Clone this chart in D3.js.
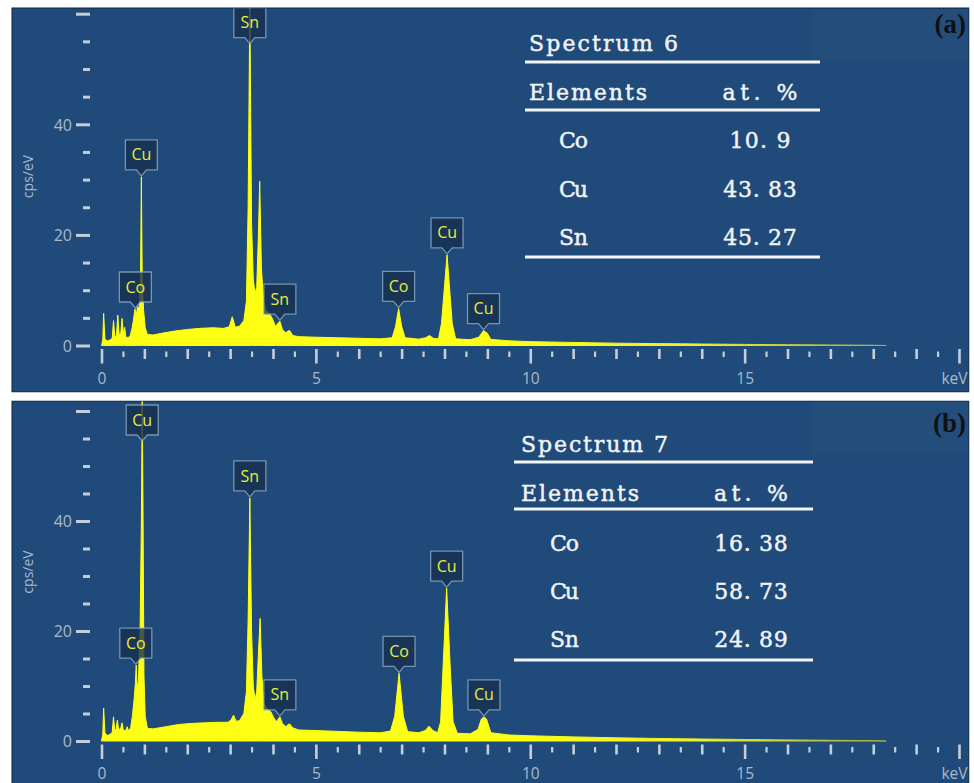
<!DOCTYPE html>
<html>
<head>
<meta charset="utf-8">
<script src="https://cdn.jsdelivr.net/npm/d3@7"></script>
<style>
  html, body { margin: 0; padding: 0; background: #ffffff; }
  svg { display: block; }
</style>
</head>
<body>
<svg id="chart" width="974" height="783"></svg>
<script>
// EDS spectrum of point 6: [energy (keV), intensity (cps/eV)]
const spectrum6 = [
  [0.00,0],[0.03,1.0],[0.05,5.8],[0.08,1.2],[0.13,0.8],[0.20,1.0],[0.25,1.3],[0.28,4.5],[0.31,1.6],
  [0.35,1.8],[0.38,5.5],[0.41,2.0],[0.45,2.2],[0.48,4.9],[0.51,2.0],[0.54,3.3],[0.57,1.5],[0.62,1.4],
  [0.67,1.8],[0.71,3.0],[0.75,4.8],[0.78,6.6],[0.81,5.4],[0.84,7.0],[0.88,6.8],[0.91,12.0],[0.93,30.5],
  [0.95,12.0],[0.98,6.5],[1.02,3.2],[1.07,2.0],[1.20,1.9],[1.40,2.2],[1.70,2.6],[2.00,2.9],[2.30,3.1],
  [2.60,3.2],[2.85,3.1],[2.98,3.4],[3.05,5.2],[3.12,3.3],[3.22,3.5],[3.32,4.5],[3.38,8.0],[3.42,25.0],
  [3.46,62.0],[3.50,22.0],[3.54,12.0],[3.58,9.5],[3.62,10.5],[3.66,20.0],[3.69,29.7],[3.73,14.0],
  [3.78,8.0],[3.84,6.4],[3.92,5.8],[4.00,4.6],[4.06,3.4],[4.12,4.1],[4.16,4.4],[4.22,2.9],[4.30,2.3],
  [4.35,2.6],[4.39,2.7],[4.46,1.8],[4.60,1.6],[5.00,1.5],[5.50,1.4],[6.00,1.3],[6.50,1.2],[6.78,1.4],
  [6.86,3.5],[6.93,6.7],[7.00,3.5],[7.08,1.4],[7.40,1.15],[7.56,1.4],[7.65,1.8],[7.74,1.3],[7.86,1.2],
  [7.93,4.0],[8.06,16.4],[8.18,4.0],[8.26,1.2],[8.60,1.05],[8.80,1.5],[8.91,2.7],[9.00,2.2],[9.08,1.1],
  [9.50,0.85],[10.0,0.7],[11.0,0.55],[12.0,0.42],[13.0,0.34],[14.0,0.27],[15.0,0.2],[16.0,0.15],[17.0,0.1],
  [18.0,0.05],[18.3,0]
];

// EDS spectrum of point 7: [energy (keV), intensity (cps/eV)]
const spectrum7 = [
  [0.00,0],[0.03,1.2],[0.05,6.0],[0.08,1.5],[0.13,1.0],[0.20,1.2],[0.25,1.6],[0.28,4.4],[0.31,1.8],
  [0.34,2.2],[0.37,3.8],[0.40,2.0],[0.45,2.4],[0.48,3.3],[0.51,2.0],[0.56,1.8],[0.60,2.6],[0.63,1.8],
  [0.68,2.4],[0.72,4.5],[0.76,7.5],[0.79,10.5],[0.81,13.8],[0.83,9.5],[0.86,11.0],[0.90,20.0],[0.93,40.0],
  [0.95,62.0],[0.97,40.0],[0.99,12.0],[1.02,4.5],[1.07,2.3],[1.20,2.2],[1.50,2.6],[1.80,3.0],[2.10,3.2],
  [2.40,3.3],[2.70,3.4],[2.95,3.4],[3.02,3.8],[3.08,4.7],[3.14,3.6],[3.22,3.7],[3.32,5.0],[3.38,9.0],
  [3.42,22.0],[3.46,44.2],[3.50,20.0],[3.54,10.0],[3.58,7.5],[3.62,9.0],[3.66,16.0],[3.70,22.3],
  [3.74,12.0],[3.78,7.0],[3.86,5.8],[3.95,5.3],[4.02,4.2],[4.08,3.5],[4.13,4.1],[4.16,4.4],[4.22,3.2],
  [4.30,2.6],[4.35,3.0],[4.39,3.1],[4.46,2.4],[4.60,2.0],[5.00,1.9],[5.50,1.75],[6.00,1.6],[6.50,1.5],
  [6.74,1.8],[6.84,4.5],[6.94,12.3],[7.04,4.5],[7.14,1.7],[7.40,1.5],[7.55,1.9],[7.64,2.7],[7.73,1.9],
  [7.84,1.5],[7.91,3.5],[7.97,14.0],[8.05,27.8],[8.13,14.0],[8.20,3.5],[8.30,1.4],[8.60,1.3],[8.78,2.1],
  [8.86,4.0],[8.92,4.4],[8.98,4.0],[9.08,1.5],[9.50,1.1],[10.0,0.95],[11.0,0.75],[12.0,0.58],[13.0,0.46],
  [14.0,0.36],[15.0,0.28],[16.0,0.2],[17.0,0.13],[18.0,0.06],[18.3,0]
];

// Peak identification markers: [element, energy (keV), intensity at marker tip (cps/eV)]
const peaks6 = [["Co",0.79,6.6],["Cu",0.93,30.5],["Sn",3.46,62],["Sn",4.16,4.4],["Co",6.93,6.7],["Cu",8.06,16.4],["Cu",8.91,2.7]];
const peaks7 = [["Co",0.80,13.8],["Cu",0.95,62],["Sn",3.46,44.2],["Sn",4.16,4.4],["Co",6.94,12.3],["Cu",8.05,27.8],["Cu",8.92,4.4]];

// Quantification tables
const elements = ["Co", "Cu", "Sn"];
const atomic6 = [10.9, 43.83, 45.27];
const atomic7 = [16.38, 58.73, 24.89];
const spectrumNames = ["Spectrum 6", "Spectrum 7"];
const panelTags = ["(a)", "(b)"];

// Axis labels
const xTickLabels = ["0", "5", "10", "15", "keV"];   // at 0, 5, 10, 15, 20 keV
const yTickLabels = ["0", "20", "40", ""];           // at 0, 20, 40, 60 cps/eV
const yTitle = "cps/eV";

const svg = d3.select("#chart");
const defs = svg.append("defs");

const x = d3.scaleLinear().domain([0, 20]).range([101.5, 959]);

// Spectrum colour fades out in the high-energy tail
const grad = defs.append("linearGradient")
  .attr("id", "specFill").attr("gradientUnits", "userSpaceOnUse")
  .attr("x1", x(9)).attr("x2", x(18.3)).attr("y1", 0).attr("y2", 0);
grad.append("stop").attr("offset", 0).attr("stop-color", "#ffff14");
grad.append("stop").attr("offset", 0.55).attr("stop-color", "#eef02a");
grad.append("stop").attr("offset", 1).attr("stop-color", "#a3ae48");

const panels = [
  { top: 8, bottom: 392, y0: 345.5, y60: 13.7,
    spectrum: spectrum6, peaks: peaks6, atomic: atomic6, name: spectrumNames[0], tag: panelTags[0], tagY: 33,
    tbl: { x0: 525, x1: 820, lines: [62, 110, 257], titleX: 529, titleY: 51, titleLen: 149,
           headY: 100, headLen: 118, atCx: 760, atLen: 75, rowX: 559, rowY: [148, 197, 245] } },
  { top: 401, bottom: 790, y0: 741, y60: 411,
    spectrum: spectrum7, peaks: peaks7, atomic: atomic7, name: spectrumNames[1], tag: panelTags[1], tagY: 432,
    tbl: { x0: 514, x1: 813, lines: [462, 509, 660], titleX: 521, titleY: 452, titleLen: 147,
           headY: 501, headLen: 118, atCx: 751, atLen: 74, rowX: 550, rowY: [551, 599, 647] } }
];

const tickColor = "#c3cedb";
const labelColor = "#a9bacb";
const uiFont = "'Open Sans', 'Noto Sans', sans-serif";
const tableFont = "'DejaVu Serif', 'Liberation Serif', serif";
const tagFont = "'Liberation Serif', 'DejaVu Serif', serif";

panels.forEach((p, i) => {
  const g = svg.append("g");

  // panel background
  g.append("rect")
    .attr("x", 12).attr("y", p.top).attr("width", 957).attr("height", p.bottom - p.top)
    .attr("fill", "#1f4a79").attr("stroke", "#0f253d").attr("stroke-width", 1);
  g.append("rect")
    .attr("x", 813).attr("y", p.top + 1).attr("width", 155).attr("height", 52)
    .attr("fill", "#ffffff").attr("opacity", 0.018);

  const clipId = "clip" + i;
  defs.append("clipPath").attr("id", clipId).append("rect")
    .attr("x", 12).attr("y", p.top + 0.5).attr("width", 957).attr("height", p.bottom - p.top - 1);

  const y = d3.scaleLinear().domain([0, 60]).range([p.y0, p.y60]);

  // spectrum
  const area = d3.area()
    .x(d => x(d[0]))
    .y0(y(0))
    .y1(d => y(d[1]));
  g.append("path")
    .datum(p.spectrum)
    .attr("d", area)
    .attr("fill", "url(#specFill)")
    .attr("stroke", "url(#specFill)")
    .attr("stroke-width", 1)
    .attr("stroke-linejoin", "round")
    .attr("clip-path", `url(#${clipId})`);

  // energy axis
  const xAxis = d3.axisBottom(x)
    .tickValues(d3.range(0, 20.01, 0.5))
    .tickSize(0)
    .tickFormat(d => (d % 5 === 0 ? xTickLabels[d / 5] : ""));
  const xg = g.append("g")
    .attr("transform", `translate(0,${p.y0 + 3.5})`)
    .call(xAxis);
  xg.select(".domain").remove();
  xg.selectAll(".tick line")
    .attr("y1", d => (d % 1 === 0 ? 0 : 2.5))
    .attr("y2", d => (d % 5 === 0 ? 14.5 : d % 1 === 0 ? 10 : 8))
    .attr("stroke", tickColor)
    .attr("stroke-width", d => (d % 1 === 0 ? 2.6 : 2.2));
  xg.selectAll(".tick text")
    .attr("y", 34.5).attr("dy", 0)
    .attr("fill", labelColor)
    .style("font-family", uiFont).style("font-size", "15.5px");
  xg.selectAll(".tick text").filter(d => d === 20)
    .attr("text-anchor", "end").attr("x", 8);

  // intensity axis
  const yAxis = d3.axisLeft(y)
    .tickValues(d3.range(0, 60.01, 5))
    .tickSize(0)
    .tickFormat(d => (d % 20 === 0 ? yTickLabels[d / 20] : ""));
  const yg = g.append("g")
    .attr("transform", "translate(90,0)")
    .call(yAxis);
  yg.select(".domain").remove();
  yg.selectAll(".tick line")
    .attr("x1", d => (d % 20 === 0 ? -14 : -7))
    .attr("x2", 0)
    .attr("stroke", tickColor)
    .attr("stroke-width", 3);
  yg.selectAll(".tick text")
    .attr("x", -18).attr("dy", "0.36em")
    .attr("fill", labelColor)
    .style("font-family", uiFont).style("font-size", "16px");

  g.append("text")
    .attr("transform", `translate(33,${p.y0 - 169}) rotate(-90)`)
    .attr("text-anchor", "middle")
    .attr("fill", labelColor)
    .style("font-family", uiFont).style("font-size", "14px")
    .text(yTitle);

  // peak markers
  const mk = g.append("g").attr("clip-path", `url(#${clipId})`);
  p.peaks.forEach(([el, e, v]) => {
    const cx = x(e);
    const tip = Math.max(y(v) - 1, y(60) + 30);
    const top = tip - 36, bot = tip - 6;
    mk.append("path")
      .attr("d", `M${cx - 16},${top}H${cx + 16}V${bot}H${cx + 5}L${cx},${tip}L${cx - 5},${bot}H${cx - 16}Z`)
      .attr("fill", "rgba(22,47,80,0.8)")
      .attr("stroke", "rgba(150,176,204,0.75)")
      .attr("stroke-width", 1.3)
      .attr("stroke-linejoin", "round");
    mk.append("text")
      .attr("x", cx).attr("y", top + 15)
      .attr("dy", "0.35em")
      .attr("text-anchor", "middle")
      .attr("fill", "#e6ee3a")
      .style("font-family", uiFont).style("font-size", "16px")
      .text(el);
  });

  // quantification table
  const t = p.tbl;
  const tg = g.append("g").attr("fill", "#f1f3f5")
    .attr("stroke", "#f1f3f5").attr("stroke-width", 0.45)
    .style("font-family", tableFont).style("font-size", "22px");
  t.lines.forEach(ly => {
    tg.append("rect").attr("x", t.x0).attr("y", ly - 1.5)
      .attr("width", t.x1 - t.x0).attr("height", 3).attr("fill", "#f4f6f8").attr("stroke", "none");
  });
  tg.append("text").attr("x", t.titleX).attr("y", t.titleY)
    .attr("textLength", t.titleLen).attr("lengthAdjust", "spacing").text(p.name);
  tg.append("text").attr("x", t.titleX).attr("y", t.headY)
    .attr("textLength", t.headLen).attr("lengthAdjust", "spacing").text("Elements");
  tg.append("text").attr("x", t.atCx - t.atLen / 2).attr("y", t.headY)
    .attr("textLength", t.atLen).attr("lengthAdjust", "spacing").text("at. %");
  elements.forEach((el, k) => {
    tg.append("text").attr("x", t.rowX).attr("y", t.rowY[k])
      .attr("textLength", 29).attr("lengthAdjust", "spacing").text(el);
    const s = String(p.atomic[k]).replace(".", ". ");
    const len = s.length * 12.4 - 1;
    tg.append("text").attr("x", t.atCx - len / 2).attr("y", t.rowY[k])
      .attr("textLength", len).attr("lengthAdjust", "spacing").text(s);
  });

  // panel tag
  g.append("text")
    .attr("x", 966).attr("y", p.tagY)
    .attr("text-anchor", "end")
    .attr("fill", "#111111")
    .style("font-family", tagFont).style("font-size", "27px").style("font-weight", "bold")
    .text(p.tag);
});

// white separator between panels
svg.append("rect").attr("x", 0).attr("y", 392.5).attr("width", 974).attr("height", 8).attr("fill", "#ffffff");
svg.append("rect").attr("x", 969.5).attr("y", 0).attr("width", 5).attr("height", 783).attr("fill", "#ffffff");
</script>
</body>
</html>
